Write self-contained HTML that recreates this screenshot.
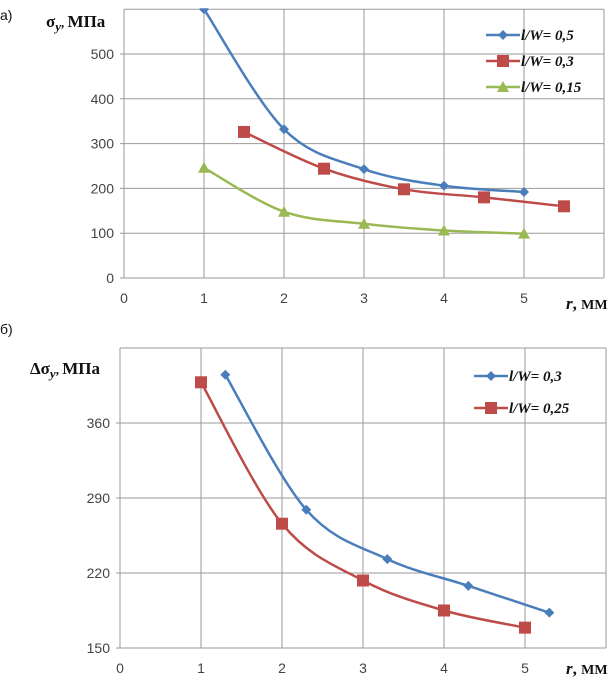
<!DOCTYPE html>
<html><head><meta charset="utf-8">
<style>
html,body{margin:0;padding:0;background:#fff;}
svg{display:block;}
.tick{font-family:"Liberation Sans",sans-serif;font-size:14px;fill:#444;}
.ttl{font-family:"Liberation Serif",serif;font-weight:bold;font-size:17px;fill:#111;}
.leg{font-family:"Liberation Serif",serif;font-weight:bold;font-style:italic;font-size:15px;fill:#111;}
.lab{font-family:"Liberation Sans",sans-serif;font-size:14px;fill:#111;}
</style></head>
<body>
<svg id="chart" width="612" height="696" viewBox="0 0 612 696" xmlns="http://www.w3.org/2000/svg">
<text class="lab" x="0" y="20">а)</text>
<text class="lab" x="0" y="334">б)</text>
<text class="ttl" x="46" y="27">σ<tspan font-style="italic" font-size="13" dy="4">y</tspan><tspan font-size="13" dy="-4">, </tspan>МПа</text>
<text class="ttl" x="30" y="374">Δσ<tspan font-style="italic" font-size="13" dy="4">y</tspan><tspan font-size="13" dy="-4">, </tspan>МПа</text>
<text class="ttl" x="566" y="309"><tspan font-style="italic">r</tspan>, <tspan font-size="14">ММ</tspan></text>
<text class="ttl" x="566" y="674"><tspan font-style="italic">r</tspan>, <tspan font-size="14">ММ</tspan></text>
</svg>
<script>
// Top chart data
const topXTicks = [0,1,2,3,4,5];
const topYTicks = [0,100,200,300,400,500];
const topNames = ["l/W= 0,5","l/W= 0,3","l/W= 0,15"];
const topAx = [1,2,3,4,5];
const topAy = [600,332,243,206,192];
const topBx = [1.5,2.5,3.5,4.5,5.5];
const topBy = [326,244,198,180,160];
const topCx = [1,2,3,4,5];
const topCy = [246,148,121,106,99];
// Bottom chart data
const botXTicks = [0,1,2,3,4,5];
const botYTicks = [150,220,290,360];
const botNames = ["l/W= 0,3","l/W= 0,25"];
const botAx = [1.3,2.3,3.3,4.3,5.3];
const botAy = [405,279,233,208,183];
const botBx = [1,2,3,4,5];
const botBy = [398,266,213,185,169];

const NS="http://www.w3.org/2000/svg";
const svg=document.getElementById('chart');
function mk(tag,attrs,parent){const e=document.createElementNS(NS,tag);for(const k in attrs)e.setAttribute(k,attrs[k]);(parent||svg).appendChild(e);return e;}

function smooth(pts){
  let d="M"+pts[0][0]+","+pts[0][1];
  for(let i=0;i<pts.length-1;i++){
    const p0=pts[i-1]||pts[i],p1=pts[i],p2=pts[i+1],p3=pts[i+2]||p2;
    const t=1/3;
    const c1=[p1[0]+(p2[0]-p0[0])*t/2,p1[1]+(p2[1]-p0[1])*t/2];
    const c2=[p2[0]-(p3[0]-p1[0])*t/2,p2[1]-(p3[1]-p1[1])*t/2];
    d+=" C"+c1[0]+","+c1[1]+" "+c2[0]+","+c2[1]+" "+p2[0]+","+p2[1];
  }
  return d;
}
function marker(type,x,y,color,g){
  let e;
  if(type==='d'){e=mk('polygon',{points:`${x},${y-5} ${x+5},${y} ${x},${y+5} ${x-5},${y}`,fill:color},g);}
  else if(type==='s'){e=mk('rect',{x:x-6,y:y-6,width:12,height:12,fill:color},g);}
  else {e=mk('polygon',{points:`${x},${y-6} ${x+6},${y+5} ${x-6},${y+5}`,fill:color},g);}
  return e;
}

function chart(cfg){
  const {x0,xUnit,xMax,yBase,yMin,yPx,yMax,xTicks,yTicks,prefix}=cfg;
  const sx=v=>x0+v*xUnit;
  const sy=v=>yBase-(v-yMin)*yPx;
  const top=sy(yMax), right=sx(xMax);
  const clipId=prefix+'clip';
  const defs=mk('defs',{});
  const cp=mk('clipPath',{id:clipId},defs);
  mk('rect',{x:x0,y:top-1,width:right-x0,height:yBase-top+1},cp);
  const grid=mk('g',{});
  
  
  for(let i=0;i<=xMax;i++){mk('line',{x1:sx(i),x2:sx(i),y1:top,y2:yBase,stroke:'#9a9a9a','stroke-width':1},grid);}
  yTicks.forEach(v=>{mk('line',{x1:x0-4,x2:right,y1:sy(v),y2:sy(v),stroke:'#9a9a9a','stroke-width':1},grid);});
  mk('line',{x1:x0,x2:right,y1:top,y2:top,stroke:'#9a9a9a'},grid);
  xTicks.forEach(v=>{const t=mk('text',{class:'tick',x:sx(v),y:yBase+25,'text-anchor':'middle'});t.textContent=v;
    
    });
  yTicks.forEach(v=>{const t=mk('text',{class:'tick',x:x0-10,y:sy(v)+5,'text-anchor':'end'});t.textContent=v;
    
    });
  cfg.series.forEach((s,si)=>{
    const g=mk('g',{'clip-path':`url(#${clipId})`});
    
    
    const pts=s.xs.map((x,i)=>[sx(x),sy(s.ys[i])]);
    mk('path',{d:smooth(pts),fill:'none',stroke:s.color,'stroke-width':2.5},g);
    pts.forEach(p=>{const m=marker(s.m,p[0],p[1],s.color,g);
      
      });
    const lg=mk('g',{});
    
    
    const ly=cfg.legY[si];
    mk('line',{x1:cfg.legX,x2:cfg.legX+34,y1:ly,y2:ly,stroke:s.color,'stroke-width':2.5},lg);
    marker(s.m,cfg.legX+17,ly,s.color,lg);
    const t=mk('text',{class:'leg',x:cfg.legX+35,y:ly+5},lg);t.textContent=s.name;
  });
}

chart({prefix:'top',x0:124,xUnit:80,xMax:6,yBase:278,yMin:0,yPx:0.448,yMax:600,
  xTicks:topXTicks,yTicks:topYTicks,legX:486,legY:[35,61,87],
  series:[
    {xs:topAx,ys:topAy,color:'#4a7ebb',m:'d',name:topNames[0]},
    {xs:topBx,ys:topBy,color:'#be4b48',m:'s',name:topNames[1]},
    {xs:topCx,ys:topCy,color:'#98b954',m:'t',name:topNames[2]}
  ]});
chart({prefix:'bottom',x0:120,xUnit:81,xMax:6,yBase:648,yMin:150,yPx:75/70,yMax:430,
  xTicks:botXTicks,yTicks:botYTicks,legX:474,legY:[376,408],
  series:[
    {xs:botAx,ys:botAy,color:'#4a7ebb',m:'d',name:botNames[0]},
    {xs:botBx,ys:botBy,color:'#be4b48',m:'s',name:botNames[1]}
  ]});
</script>
</body></html>
